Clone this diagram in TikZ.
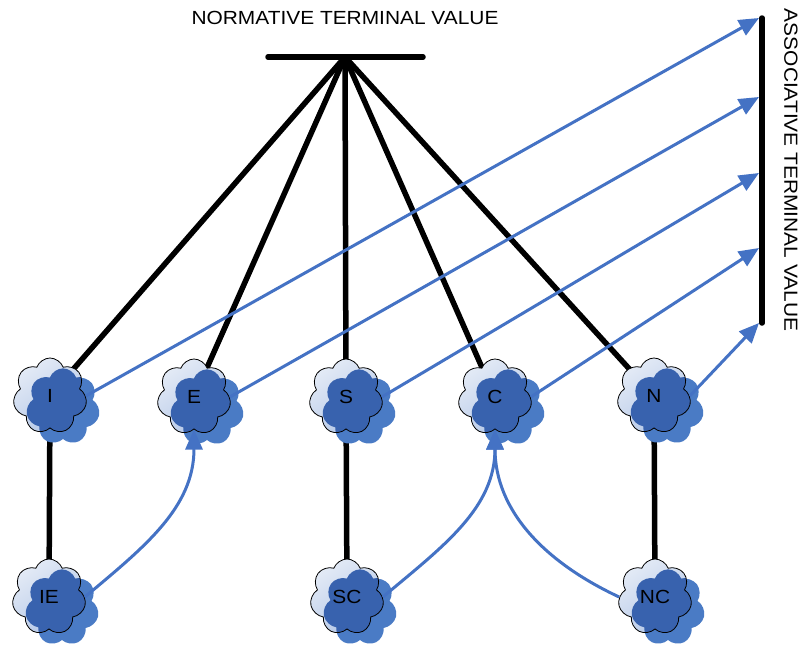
\documentclass[tikz,border=0pt]{standalone}
\usepackage{fontspec}
\newfontfamily\labfont[FakeStretch=1.1]{Liberation Sans}
\usetikzlibrary{shapes.symbols,shadows,arrows.meta,backgrounds}
\definecolor{shadowblue}{HTML}{4A7BC5}
\definecolor{innerblue}{HTML}{3862AE}
\definecolor{cloudhi}{HTML}{E4EBF6}
\definecolor{cloudlo}{HTML}{B0C4E6}
\definecolor{linkblue}{HTML}{4472C4}
\tikzset{
  cloudform/.style={cloud, cloud puffs=7, cloud puff arc=140, aspect=1,
    minimum width=74pt, minimum height=76pt, inner sep=0pt},
  concept/.style={cloudform, draw=black, line width=0.8pt,
    top color=cloudhi, bottom color=cloudlo, shading angle=35,
    general shadow={shadow xshift=13pt, shadow yshift=-11pt, fill=shadowblue},
    path picture={\node[cloudform, fill=innerblue]
      at ([shift={(13pt,-11pt)}]path picture bounding box.center) {};},
    font=\labfont\fontsize{19}{22}\selectfont},
  tie/.style={line width=5.5pt, black, line cap=round},
  assoc/.style={line width=3pt, linkblue, -{Triangle[length=20pt,width=17pt]}},
  heading/.style={font=\labfont\fontsize{19}{22}\selectfont, inner sep=0pt}
}
\begin{document}
\begin{tikzpicture}[x=1pt,y=1pt]
\useasboundingbox (0,0) rectangle (803,-645);

% headings
\node[heading] (ntv) at (345,-18) {NORMATIVE TERMINAL VALUE};
\node[heading, rotate=-90] (atv) at (791,-170) {ASSOCIATIVE TERMINAL VALUE};

% the two terminal bars
\coordinate (barL) at (268,-57);
\coordinate (barR) at (423,-57);
\coordinate (apex) at (345,-57);
\coordinate (vtop) at (762,-18);
\coordinate (vbot) at (762,-323);

% targets on the vertical bar
\coordinate (t1) at (759,-18);
\coordinate (t2) at (759,-97);
\coordinate (t3) at (759,-173);
\coordinate (t4) at (759,-248);
\coordinate (t5) at (759,-323);

% concepts
\node[concept] (I)  at (50,-396)  {I};
\node[concept] (E)  at (194,-397) {E};
\node[concept] (S)  at (346,-397) {S};
\node[concept] (C)  at (495,-397) {C};
\node[concept] (N)  at (654,-396) {N};
\node[concept] (IE) at (49,-597)  {IE};
\node[concept] (SC) at (347,-597) {SC};
\node[concept] (NC) at (655,-597) {NC};

\begin{scope}[on background layer]
  \draw[tie] (barL) -- (barR);
  \draw[tie] (vtop) -- (vbot);
  \foreach \c in {I,E,S,C,N} \draw[tie] (apex) -- (\c.center);
  \draw[tie] (I.center) -- (IE.center);
  \draw[tie] (S.center) -- (SC.center);
  \draw[tie] (N.center) -- (NC.center);
\end{scope}

% associative links
\draw[assoc] (I.east) -- (t1);
\draw[assoc] (E.east) -- (t2);
\draw[assoc] (S.east) -- (t3);
\draw[assoc] (C.east) -- (t4);
\draw[assoc] (N.east) -- (t5);

\draw[assoc] (IE.east) to[out=40, in=-90] (E.south);
\draw[assoc] (SC.east) to[out=40, in=-90] (C.south);
\draw[assoc] (NC.west) to[out=155, in=-90] (C.south);
\end{tikzpicture}
\end{document}
